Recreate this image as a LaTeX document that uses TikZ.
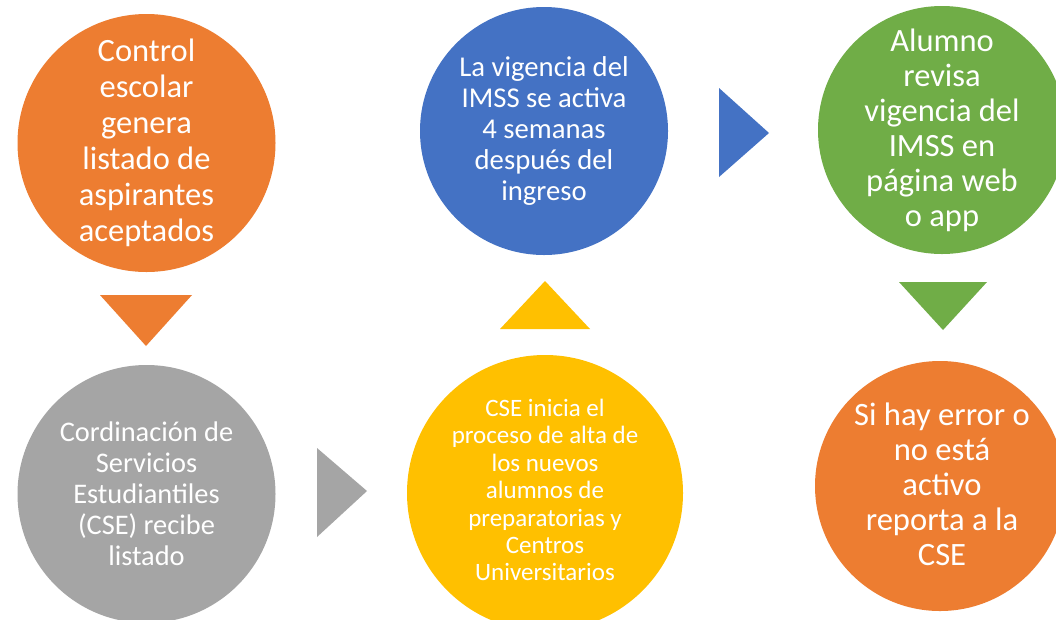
\documentclass[tikz,border=0pt]{standalone}
\usepackage{fontspec}
\setmainfont{Carlito}
\definecolor{cOrange}{HTML}{ED7D31}
\definecolor{cBlue}{HTML}{4472C4}
\definecolor{cGreen}{HTML}{70AD47}
\definecolor{cGray}{HTML}{A5A5A5}
\definecolor{cYellow}{HTML}{FFC000}
\tikzset{
  disk/.style={circle, inner sep=0pt, draw=none},
  disktext/.style={inner sep=0pt, text=white, align=center}
}
\newcommand{\fs}[2]{\fontsize{#1}{#2}\selectfont}
\begin{document}
\begin{tikzpicture}[x=1pt,y=-1pt]
\useasboundingbox (0,0) rectangle (1056,619);
\fill[white] (0,0) rectangle (1056,619);
\clip (0,0) rectangle (1056,619);

% circles
\node[disk, fill=cOrange, minimum size=258pt] (n1) at (146.5,143) {};
\node[disk, fill=cGray, minimum size=258pt] (n2) at (146.5,494) {};
\node[disk, fill=cYellow, minimum size=276pt] (n3) at (545,493) {};
\node[disk, fill=cBlue, minimum size=248pt] (n4) at (544,131) {};
\node[disk, fill=cGreen, minimum size=248pt] (n5) at (942,130) {};
\node[disk, fill=cOrange, minimum size=250pt] (n6) at (940,486) {};

% texts
\node[disktext, font=\fs{32.5}{36}] (t1) at (n1.center)
  {Control\\escolar\\genera\\listado de\\aspirantes\\aceptados};
\node[disktext, font=\fs{28.4}{31}] (t2) at (n2.center)
  {Cordinación de\\Servicios\\Estudiantiles\\(CSE) recibe\\listado};
\node[disktext, font=\fs{25}{27.4}] (t3) at (545,490)
  {CSE inicia el\\proceso de alta de\\los nuevos\\alumnos de\\preparatorias y\\Centros\\Universitarios};
\node[disktext, font=\fs{28.7}{31}] (t4) at (n4.center)
  {La vigencia del\\IMSS se activa\\4 semanas\\después del\\ingreso};
\node[disktext, font=\fs{32.5}{35}] (t5) at (n5.center)
  {Alumno\\revisa\\vigencia del\\IMSS en\\página web\\o app};
\node[disktext, font=\fs{32.6}{35}] (t6) at (942,484)
  {Si hay error o\\no está\\activo\\reporta a la\\CSE};

% pointers between steps
\fill[cOrange] (100,295) -- (192,295) -- (146,346) -- cycle;
\fill[cGray] (317,448) -- (317,537) -- (367,491) -- cycle;
\fill[cYellow] (500,329) -- (590,329) -- (545,281) -- cycle;
\fill[cBlue] (719,88) -- (719,177) -- (769,133) -- cycle;
\fill[cGreen] (899,282) -- (987,282) -- (943,330) -- cycle;
\end{tikzpicture}
\end{document}
